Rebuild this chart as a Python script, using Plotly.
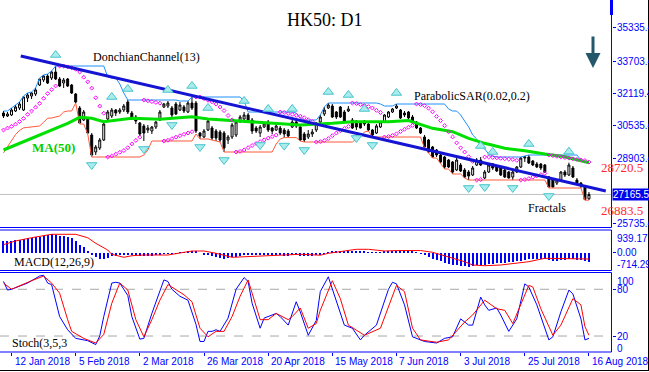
import plotly.graph_objects as go

# ---------------- DATA ----------------
tick_idx = [2, 18, 34, 50, 66, 82, 98, 114, 130, 146]
tick_txt = ["12 Jan 2018", "5 Feb 2018", "2 Mar 2018", "26 Mar 2018", "20 Apr 2018",
            "15 May 2018", "7 Jun 2018", "3 Jul 2018", "25 Jul 2018", "16 Aug 2018"]

opens = [31156,31009,31058,31254,31401,31303,31891,31989,32087,32528,
         32773,32969,32871,33165,32822,32626,32822,32528,32087,31401,
         30813,30911,30078,29245,29441,29833,30862,31009,31303,31205,
         31303,31695,31156,30960,30666,30519,30323,30274,30470,30813,
         31450,31499,31401,31597,31303,31450,31205,31646,31646,30176,
         29980,30323,30421,30274,30225,30176,29833,29980,30078,30764,
         30862,31058,30813,30421,30176,30470,30715,30421,30323,30421,
         30323,30274,30470,30715,30470,30127,29980,30127,30323,30715,
         31107,31401,31499,31205,31450,31205,31254,30813,30764,30715,
         30764,30617,30323,30176,30470,30715,30960,31205,31401,31303,
         31156,31205,30960,30715,30421,29980,29833,29490,29343,29098,
         29000,28853,28755,28363,28608,28363,28265,28118,28608,28853,
         27971,28265,28657,28510,28461,28363,28265,28020,28265,28510,
         28951,29000,28804,28657,28657,28608,28020,27873,27726,27873,
         28265,28118,28461,27873,27726,27530,26950]
highs = [31254,31205,31401,31548,31695,31989,32136,32185,32381,32871,
         33018,33067,33214,33459,32920,32871,32871,32577,32136,31499,
         31303,30960,30176,29588,29931,30666,31303,31401,31352,31401,
         31597,31793,31254,31058,30715,30617,30568,30519,30764,31303,
         31646,31744,31499,31695,31695,31548,31744,31940,31744,30225,
         30372,30862,30519,30372,30323,30274,30078,30666,30764,31058,
         31205,31156,30911,30519,30568,30715,30813,30470,30617,30519,
         30421,30372,30813,30813,30568,30225,30323,30372,30715,31058,
         31450,31646,31597,31254,31499,31303,31499,30911,30813,30764,
         30813,30666,30372,30617,30764,31107,31254,31401,31597,31352,
         31254,31254,31058,30764,30470,30078,29882,29539,29392,29147,
         29049,28902,28804,28951,28706,28461,28363,28559,28951,29000,
         28363,28706,28706,28559,28510,28412,28314,28363,28559,29000,
         29049,29098,28853,28755,28706,28657,28069,27971,27922,28314,
         28363,28720.5,28559,27971,27775,27628,27285]
lows = [30911,30960,31009,31205,31303,31254,31695,31842,31989,32479,
        32675,32577,32773,32773,32430,32381,32430,32087,31646,30617,
        30764,30127,29000,29098,29343,29784,30764,30911,31009,31107,
        31205,31107,30813,30617,30029,29784,30176,30127,30372,30764,
        31401,31401,30960,31058,31254,31156,31156,31303,30176,29882,
        29931,30274,29833,29784,29735,29245,29637,29882,29980,30666,
        30764,30666,30127,30176,29980,30421,30225,30127,30274,30078,
        29950,29980,30421,30421,29784,29735,29882,29980,30225,30666,
        31009,31352,30911,30862,30911,30666,31205,30372,30323,30400,
        30519,30274,29980,30127,30421,30666,30911,31156,31352,30862,
        30960,30813,30617,30372,30127,29441,29196,28951,29000,28706,
        28412,28461,28167,28314,28265,27971,27873,28069,28559,28559,
        27922,28216,28363,28265,28069,27971,27950,27873,28216,28461,
        28755,28657,28559,28461,28363,28216,27481,27500,27628,27824,
        28020,28069,27971,27677,27481,26883.5,26900]
closes = [31009,31107,31303,31450,31597,31940,32038,32136,32283,32822,
          32969,32626,33165,32822,32479,32773,32479,32136,31695,30666,
          31205,30176,29098,29490,29833,30617,31205,31303,31156,31303,
          31499,31205,30911,30764,30127,30176,30421,30470,30715,31205,
          31597,31646,31058,31107,31548,31254,31646,31401,30274,30029,
          30274,30764,29931,29931,29833,29441,29980,30568,30715,30960,
          31058,30813,30274,30274,30470,30617,30323,30274,30519,30176,
          30127,30029,30715,30519,29833,29833,30127,30225,30666,30960,
          31303,31548,30960,30960,30960,30715,31352,30421,30470,30421,
          30617,30323,30078,30519,30715,31058,31205,31352,31499,30911,
          31058,30911,30666,30421,30176,29490,29245,29000,29098,28755,
          28510,28510,28265,28853,28314,28020,28069,28461,28853,28608,
          28265,28608,28461,28314,28118,28020,27971,28265,28510,28951,
          29000,28706,28608,28510,28461,28265,27530,27530,27873,28265,
          28118,28608,28020,27726,27579,26920,27165.5]

# lows of the 12 bars preceding the visible window
pre_lows = [29200, 29500, 29800, 30100, 30300, 30430, 30450, 30480, 30500, 30520, 30700, 30900]

ma_idx = [0, 5, 12, 16, 19, 22, 25, 32, 39, 47, 51, 57, 66, 74, 82, 87, 96, 101,
          107, 112, 116, 120, 125, 130, 135, 140, 146]
ma_val = [29343, 29750, 30323, 30651, 30945, 30896, 30730, 30896, 30847, 30975,
          30862, 30779, 30681, 30568, 30651, 30730, 30730, 30788, 30406, 30240,
          29916, 29671, 29426, 29309, 29147, 29015, 28721]

frac_up_idx = [13, 27, 31, 41, 47, 51, 60, 66, 72, 81, 86, 90, 98, 119, 122, 131, 141]
frac_dn_idx = [22, 35, 42, 49, 55, 64, 70, 75, 88, 92, 116, 120, 127, 136]

trend_idx = [4.3, 150.2]
trend_val = [33949, 27334]

sar_start = dict(value=30323, ep=31254, af=0.1)   # state at first bar (uptrend)

macd_hist = [470,498,510,523,551,564,604,633,645,674,
             702,727,768,743,714,702,674,604,510,335,
             237,102,-73,-171,-237,-237,-212,-131,-102,-73,
             -60,-50,-80,-100,-130,-140,-130,-110,-90,-60,
             -30,-10,-20,-20,10,40,70,100,60,0,
             -60,-100,-140,-170,-190,-230,-220,-180,-150,-110,
             -80,-70,-90,-100,-100,-90,-90,-100,-90,-100,
             -110,-120,-100,-100,-120,-140,-130,-120,-100,-60,
             -10,40,60,70,80,80,100,80,70,60,
             50,40,20,20,30,50,70,90,100,90,
             80,70,50,20,-20,-100,-170,-240,-290,-340,
             -400,-440,-500,-500,-520,-550,-560,-540,-500,-480,
             -470,-450,-430,-410,-400,-390,-380,-360,-340,-310,
             -280,-260,-250,-250,-250,-260,-290,-320,-320,-300,
             -290,-260,-260,-270,-290,-340,-360]
sig_idx = [0, 3, 7, 12, 18, 21, 23, 26, 27, 30, 32, 35, 41, 44, 47, 50, 53, 57, 62, 67,
           74, 79, 81, 85, 88, 91, 95, 98, 104, 107, 111, 115, 117, 120, 124, 128, 131,
           135, 140, 146]
sig_val = [320, 470, 604, 743, 743, 604, 376, 102, -73, -196, -131, -102, -102, -33, 61,
           61, -33, -196, -163, -102, -73, -110, -33, 61, 131, 131, 61, 80, 80, 8, -171,
           -375, -510, -539, -510, -441, -375, -237, -237, -265]

k_pts = [(0,90),(1,79),(2,80),(4,84),(6,88),(9,97),(10,98),(11,88),(12,86),(14,45),(16,28),
         (18,17),(21,14),(23,9),(24,20),(25,45),(27,88),(28,89),(29,88),(31,72),(32,45),
         (34,16),(35,17),(37,49),(40,92),(41,90),(42,80),(44,71),(46,66),(48,35),(49,13),
         (50,13),(51,26),(52,26),(53,28),(54,26),(56,43),(58,80),(60,95),(61,90),(62,62),
         (64,30),(65,43),(68,49),(69,45),(71,34),(73,64),(74,51),(76,21),(78,40),(79,77),
         (81,96),(85,34),(87,30),(89,15),(90,21),(93,34),(96,80),(97,89),(98,87),(100,60),
         (102,19),(105,13),(108,11),(110,17),(112,19),(114,42),(116,34),(117,34),(119,70),
         (120,60),(121,53),(123,56),(124,47),(126,26),(128,42),(130,87),(131,83),(133,60),
         (136,15),(137,19),(139,51),(141,79),(142,74),(144,42),(145,15),(146,17)]
d_pts = [(0,88),(2,80),(7,91),(10,97),(12,88),(14,75),(16,41),(17,26),(20,17),(23,11),
         (25,22),(27,62),(29,88),(31,79),(33,41),(35,19),(37,41),(39,66),(41,86),(43,79),
         (45,73),(47,64),(49,30),(51,19),(53,26),(55,26),(57,45),(59,71),(61,92),(62,75),
         (64,41),(66,41),(68,49),(71,41),(72,45),(74,56),(76,30),(78,36),(79,53),(82,91),
         (84,68),(86,34),(90,21),(94,30),(98,85),(100,77),(102,30),(104,15),(108,12),
         (111,15),(115,38),(117,47),(120,66),(123,55),(125,53),(127,36),(131,85),(132,83),
         (134,55),(137,21),(139,34),(142,68),(144,60),(145,32),(146,21)]

main_ticks = [35335.4, 33703.4, 32119.4, 30535.4, 28903.4, 25735.4]
last_price = 27165.5
don_hi_label = 28720.5
don_lo_label = 26883.5

# ---------------- DERIVED INDICATORS ----------------
n = len(closes)
idx = list(range(n))
ext_lows = pre_lows + lows
P = len(pre_lows)
don_up = [max(highs[max(0, i - 12):i + 1]) for i in idx]
don_lo = [min(ext_lows[P + i - 12:P + i + 1]) for i in idx]


def parabolic_sar(h, l, s0, ep0, af0, step=0.02, amax=0.2):
    out = [s0]
    up, s, ep, af = True, s0, ep0, af0
    for i in range(1, len(h)):
        s = s + af * (ep - s)
        if up:
            s = min(s, l[i - 1], l[i - 2] if i >= 2 else l[i - 1])
            if l[i] < s:
                up, s, ep, af = False, ep, l[i], step
            elif h[i] > ep:
                ep, af = h[i], min(af + step, amax)
        else:
            s = max(s, h[i - 1], h[i - 2] if i >= 2 else h[i - 1])
            if h[i] > s:
                up, s, ep, af = True, ep, h[i], step
            elif l[i] < ep:
                ep, af = l[i], min(af + step, amax)
        out.append(s)
    return out


sar = parabolic_sar(highs, lows, sar_start["value"], sar_start["ep"], sar_start["af"])

# ---------------- LAYOUT HELPERS ----------------
W, H = 649, 372
BLUE = "#0000ff"
SERIF = "Liberation Serif"
SANS = "Liberation Sans"
AXIS_X = 611.5


def py(y):
    return 1 - y / H


def pxx(x):
    return x / W


x_range = [(0 - 3.5) / 4.01, (AXIS_X - 3.5) / 4.01]
UP_OFF = 540
DN_OFF = 390

fig = go.Figure()

# main panel
fig.add_trace(go.Scatter(x=idx, y=don_up, mode="lines", line=dict(color="#1e90ff", width=1),
                         xaxis="x", yaxis="y", hoverinfo="skip"))
fig.add_trace(go.Scatter(x=idx, y=don_lo, mode="lines", line=dict(color="#ff5a3c", width=1),
                         xaxis="x", yaxis="y", hoverinfo="skip"))
fig.add_trace(go.Scatter(x=ma_idx, y=ma_val, mode="lines", line=dict(color="#00e000", width=3),
                         xaxis="x", yaxis="y", hoverinfo="skip"))
fig.add_trace(go.Candlestick(x=idx, open=opens, high=highs, low=lows, close=closes,
                             increasing=dict(line=dict(color="black", width=1), fillcolor="white"),
                             decreasing=dict(line=dict(color="black", width=1), fillcolor="black"),
                             whiskerwidth=0, xaxis="x", yaxis="y", hoverinfo="skip"))
fig.add_trace(go.Scatter(x=idx, y=sar, mode="markers",
                         marker=dict(symbol="diamond-open", size=3, color="#ff00ff",
                                     line=dict(width=1, color="#ff00ff")),
                         xaxis="x", yaxis="y", hoverinfo="skip"))
fig.add_trace(go.Scatter(x=trend_idx, y=trend_val, mode="lines", line=dict(color="#1414d2", width=3),
                         xaxis="x", yaxis="y", hoverinfo="skip"))
fig.add_trace(go.Scatter(x=frac_up_idx, y=[highs[i] + UP_OFF for i in frac_up_idx], mode="markers",
                         marker=dict(symbol="triangle-up", size=9, color="#a8ecec",
                                     line=dict(width=1, color="#48c4cc")),
                         xaxis="x", yaxis="y", hoverinfo="skip"))
fig.add_trace(go.Scatter(x=frac_dn_idx, y=[lows[i] - DN_OFF for i in frac_dn_idx], mode="markers",
                         marker=dict(symbol="triangle-down", size=9, color="#a8ecec",
                                     line=dict(width=1, color="#48c4cc")),
                         xaxis="x", yaxis="y", hoverinfo="skip"))

# MACD panel
fig.add_trace(go.Bar(x=idx, y=macd_hist, marker=dict(color=BLUE, line=dict(width=0)), width=0.27,
                     xaxis="x2", yaxis="y2", hoverinfo="skip"))
fig.add_trace(go.Scatter(x=sig_idx, y=sig_val, mode="lines", line=dict(color="#ff0000", width=1),
                         xaxis="x2", yaxis="y2", hoverinfo="skip"))

# Stoch panel
fig.add_trace(go.Scatter(x=[p[0] for p in k_pts], y=[p[1] for p in k_pts], mode="lines",
                         line=dict(color=BLUE, width=1), xaxis="x3", yaxis="y3", hoverinfo="skip"))
fig.add_trace(go.Scatter(x=[p[0] for p in d_pts], y=[p[1] for p in d_pts], mode="lines",
                         line=dict(color="#ff0000", width=1), xaxis="x3", yaxis="y3", hoverinfo="skip"))

xdom = [0, AXIS_X / W]
common_x = dict(domain=xdom, range=x_range, showgrid=False, zeroline=False, showline=False,
                showticklabels=False, fixedrange=True)
fig.update_layout(
    width=W, height=H, margin=dict(l=0, r=0, t=0, b=0),
    paper_bgcolor="white", plot_bgcolor="white", showlegend=False, template="none",
    bargap=0,
    xaxis=dict(**common_x, anchor="y", rangeslider=dict(visible=False)),
    xaxis2=dict(**common_x, anchor="y2", matches="x"),
    xaxis3=dict(**common_x, anchor="y3", matches="x", ticks="outside", tickvals=tick_idx,
                ticklen=3, tickcolor=BLUE, tickwidth=1),
    yaxis=dict(domain=[py(228), py(0)], range=[36693 - 49 * 228, 36693], side="right",
               showgrid=False, zeroline=False, showticklabels=False, ticks="outside",
               tickvals=main_ticks + [last_price], ticklen=3, tickcolor=BLUE, anchor="x"),
    yaxis2=dict(domain=[py(270), py(229.5)], range=[-714.29, 939.17], side="right",
                showgrid=False, zeroline=False, showticklabels=False, ticks="outside",
                tickvals=[0], ticklen=3, tickcolor=BLUE, anchor="x2"),
    yaxis3=dict(domain=[py(351.6), py(273.7)], range=[0, 100], side="right",
                showgrid=False, zeroline=False, showticklabels=False, ticks="outside",
                tickvals=[20, 80], ticklen=3, tickcolor=BLUE, anchor="x3"),
)

shapes = []
shapes.append(dict(type="line", xref="paper", yref="y", x0=0, x1=pxx(AXIS_X), y0=last_price,
                   y1=last_price, line=dict(color="#c0c0c0", width=1), layer="below"))
for lv in (20, 80):
    shapes.append(dict(type="line", xref="paper", yref="y3", x0=0, x1=pxx(AXIS_X), y0=lv, y1=lv,
                       line=dict(color="#a8a8a8", width=1, dash="dash"), layer="below"))
for y in (227.5, 230, 270.5, 272.5, 352):
    shapes.append(dict(type="line", xref="paper", yref="paper", x0=0, x1=pxx(AXIS_X), y0=py(y), y1=py(y),
                       line=dict(color=BLUE, width=1)))
for (ya, yb) in ((0, 227.5), (230, 270.5), (272.5, 352)):
    shapes.append(dict(type="line", xref="paper", yref="paper", x0=pxx(AXIS_X), x1=pxx(AXIS_X),
                       y0=py(ya), y1=py(yb), line=dict(color=BLUE, width=1)))
shapes.append(dict(type="rect", xref="paper", yref="paper", x0=pxx(610), x1=pxx(613), y0=py(15), y1=py(0),
                   line=dict(width=0), fillcolor=BLUE))
shapes.append(dict(type="line", xref="paper", yref="paper", x0=0, x1=1, y0=py(370.5), y1=py(370.5),
                   line=dict(color="black", width=1)))
shapes.append(dict(type="line", xref="paper", yref="paper", x0=pxx(648.5), x1=pxx(648.5), y0=py(0), y1=py(371),
                   line=dict(color="black", width=1)))
fig.update_layout(shapes=shapes)

ann = []


def text(t, x, y, size=12, color="black", family=SERIF, xanchor="left", yref="paper", bold=False, **kw):
    ann.append(dict(text=("<b>%s</b>" % t) if bold else t, x=pxx(x), y=(py(y) if yref == "paper" else y),
                    xref="paper", yref=yref, xanchor=xanchor, yanchor="middle", showarrow=False,
                    font=dict(size=size, color=color, family=family), **kw))


text("HK50: D1", 325, 20, size=18, xanchor="center")
text("DonchianChannel(13)", 91, 57)
text("ParabolicSAR(0.02,0.2)", 412, 96)
text("Fractals", 526, 208)
text("MA(50)", 30, 147.5, size=13, color="#00d000", bold=True)
text("MACD(12,26,9)", 12, 262)
text("Stoch(3,5,3", 10, 343)
text(f"{don_hi_label}", 599, 167, size=13, color="#ff2a2a")
text(f"{don_lo_label}", 599, 210, size=13, color="#ff2a2a")

for v in main_ticks:
    text(f"{v}", 615, v, size=10, color=BLUE, family=SANS, yref="y")
ann.append(dict(text=f"{last_price}", x=pxx(612), y=last_price, xref="paper", yref="y", xanchor="left",
                yanchor="middle", showarrow=False, bgcolor="#0000ee", borderpad=0,
                font=dict(size=10, color="white", family=SANS)))
text("939.17", 615, 238, size=10, color=BLUE, family=SANS)
text("0.00", 615, 0, size=10, color=BLUE, family=SANS, yref="y2")
text("-714.29", 615, 264, size=10, color=BLUE, family=SANS)
text("100", 615, 281, size=10, color=BLUE, family=SANS)
text("80", 615, 80, size=10, color=BLUE, family=SANS, yref="y3")
text("20", 615, 20, size=10, color=BLUE, family=SANS, yref="y3")
text("0", 615, 348, size=10, color=BLUE, family=SANS)

for i, t in zip(tick_idx, tick_txt):
    ann.append(dict(text=t, x=i, y=py(361), xref="x3", yref="paper", xanchor="left", yanchor="middle",
                    xshift=1, showarrow=False, font=dict(size=10, color=BLUE, family=SANS)))

ann.append(dict(text="", x=pxx(593), y=py(68), xref="paper", yref="paper", ax=0, ay=-33,
                showarrow=True, arrowhead=2, arrowsize=1, arrowwidth=3, arrowcolor="#22586a"))

fig.update_layout(annotations=ann)
fig.write_html("out.html", config={"displayModeBar": False},
               post_script="document.body.style.margin='0';document.body.style.overflow='hidden';")
